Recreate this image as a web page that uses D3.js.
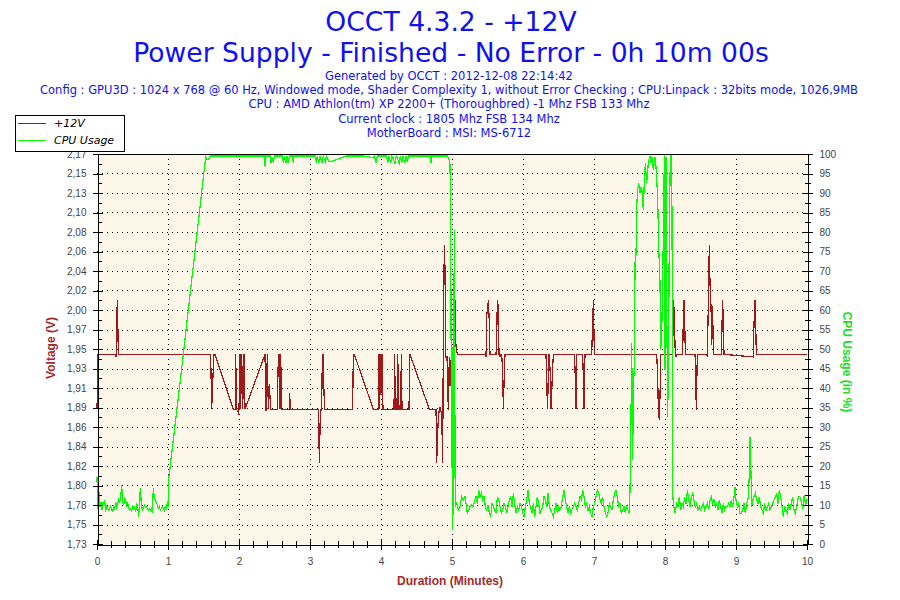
<!DOCTYPE html>
<html>
<head>
<meta charset="utf-8">
<script src="https://cdn.jsdelivr.net/npm/d3@7"></script>
<style>
  body { margin: 0; background: #fff; }
</style>
</head>
<body>
<div id="chart"></div>
<script>
// Chart texts
const titleLines = ["OCCT 4.3.2 - +12V", "Power Supply - Finished - No Error - 0h 10m 00s"];
const infoLines = [
  "Generated by OCCT : 2012-12-08 22:14:42",
  "Config : GPU3D : 1024 x 768 @ 60 Hz, Windowed mode, Shader Complexity 1, without Error Checking ; CPU:Linpack : 32bits mode, 1026,9MB",
  "CPU : AMD Athlon(tm) XP 2200+ (Thoroughbred) -1 Mhz FSB 133 Mhz",
  "Current clock : 1805 Mhz FSB 134 Mhz",
  "MotherBoard : MSI: MS-6712"
];
const legendNames = ["+12V", "CPU Usage"];

// Axis ticks
const minuteTicks = [0, 1, 2, 3, 4, 5, 6, 7, 8, 9, 10];
const voltTickLabels = ["1,73", "1,75", "1,78", "1,80", "1,82", "1,84", "1,86", "1,89", "1,91", "1,93", "1,95",
  "1,97", "2,00", "2,02", "2,04", "2,06", "2,08", "2,10", "2,13", "2,15", "2,17"];
const cpuTicks = [0, 5, 10, 15, 20, 25, 30, 35, 40, 45, 50, 55, 60, 65, 70, 75, 80, 85, 90, 95, 100];

// +12V reading: [minutes, volts]
const voltage = [
  [0.000, 1.882], [0.008, 1.915], [0.015, 1.944],
  [0.263, 1.944], [0.270, 1.941], [0.275, 1.979], [0.287, 2.005], [0.293, 1.980], [0.300, 1.944],
  [1.601, 1.944], [1.615, 1.882], [1.629, 1.911], [1.648, 1.944], [1.662, 1.944],
  [1.920, 1.882], [1.948, 1.882], [1.953, 1.944], [1.967, 1.882], [1.991, 1.878], [2.000, 1.882],
  [2.014, 1.944], [2.023, 1.882], [2.038, 1.944], [2.052, 1.882], [2.070, 1.944], [2.085, 1.882],
  [2.366, 1.944], [2.380, 1.880], [2.399, 1.944], [2.413, 1.882], [2.427, 1.911], [2.446, 1.882],
  [2.540, 1.882], [2.554, 1.944], [2.568, 1.944], [2.577, 1.882], [2.587, 1.944], [2.601, 1.882],
  [2.709, 1.882], [2.714, 1.900], [2.723, 1.882],
  [3.117, 1.882], [3.127, 1.840], [3.136, 1.821], [3.141, 1.865], [3.155, 1.882], [3.164, 1.882],
  [3.174, 1.944], [3.188, 1.944], [3.197, 1.900], [3.207, 1.882],
  [3.601, 1.882], [3.610, 1.944], [3.624, 1.944],
  [3.892, 1.882], [3.962, 1.882], [3.972, 1.944], [3.981, 1.882], [3.995, 1.944], [4.005, 1.900],
  [4.014, 1.944], [4.028, 1.882],
  [4.183, 1.882], [4.192, 1.944], [4.202, 1.882], [4.225, 1.882], [4.235, 1.944], [4.244, 1.911],
  [4.254, 1.882], [4.277, 1.882], [4.286, 1.944], [4.296, 1.882],
  [4.394, 1.882], [4.408, 1.944],
  [4.681, 1.882], [4.775, 1.882], [4.784, 1.821], [4.808, 1.875], [4.831, 1.885], [4.855, 1.875],
  [4.869, 1.821], [4.878, 1.968], [4.892, 2.067], [4.901, 2.043], [4.911, 1.941], [4.930, 1.941],
  [4.948, 1.881], [4.962, 1.941], [4.972, 1.908], [4.996, 1.953], [5.018, 1.900], [5.042, 2.005],
  [5.056, 1.953], [5.075, 1.944],
  [5.470, 1.944], [5.479, 1.941], [5.488, 1.986], [5.512, 2.005], [5.526, 1.979], [5.535, 1.944],
  [5.620, 1.944], [5.629, 1.958], [5.638, 2.005], [5.653, 1.997], [5.662, 1.944], [5.676, 1.941], [5.686, 1.944],
  [5.700, 1.944], [5.714, 1.923], [5.723, 1.882], [5.737, 1.923], [5.747, 1.944],
  [6.324, 1.944], [6.333, 1.912], [6.347, 1.882], [6.361, 1.944], [6.371, 1.944], [6.385, 1.919],
  [6.394, 1.882], [6.413, 1.919], [6.427, 1.944],
  [6.723, 1.944], [6.732, 1.930], [6.746, 1.882], [6.756, 1.944],
  [6.840, 1.944], [6.850, 1.919], [6.859, 1.882], [6.873, 1.944],
  [6.967, 1.944], [6.977, 1.968], [6.991, 2.005], [7.005, 1.944],
  [7.883, 1.944], [7.897, 1.919], [7.906, 1.881], [7.920, 1.870], [7.930, 1.898], [7.939, 1.944],
  [8.103, 1.944], [8.113, 1.968], [8.122, 2.005], [8.131, 1.986], [8.145, 1.944], [8.155, 1.941], [8.164, 1.944],
  [8.249, 1.944], [8.258, 1.986], [8.268, 2.005], [8.277, 1.986], [8.286, 1.944],
  [8.423, 1.944], [8.432, 1.919], [8.441, 1.881], [8.455, 1.944],
  [8.585, 1.944], [8.596, 1.941], [8.610, 1.999], [8.624, 2.067], [8.634, 2.024], [8.648, 1.999],
  [8.657, 1.955], [8.671, 1.999], [8.681, 1.944],
  [8.798, 1.944], [8.803, 1.979], [8.812, 2.005], [8.822, 1.979], [8.831, 1.944],
  [9.244, 1.941], [9.254, 1.980], [9.268, 2.005], [9.277, 1.980], [9.286, 1.944],
  [10.000, 1.944]
];

// CPU usage: [minutes, percent]
const cpuUsage = [
  [0.000, 17.3], [0.009, 9.1], [0.033, 13.4], [0.042, 9.6], [0.056, 10.8], [0.070, 8.7], [0.080, 10.8],
  [0.094, 10.0], [0.108, 11.3], [0.122, 8.3], [0.136, 10.0], [0.150, 9.1], [0.164, 8.7], [0.178, 9.1],
  [0.192, 9.6], [0.207, 8.7], [0.221, 8.3], [0.235, 9.6], [0.249, 9.1], [0.263, 10.8], [0.277, 9.6],
  [0.291, 10.4], [0.305, 11.3], [0.319, 10.8], [0.333, 11.7], [0.347, 15.1], [0.362, 10.8], [0.376, 10.0],
  [0.390, 11.7], [0.404, 11.3], [0.418, 9.6], [0.432, 10.8], [0.446, 9.1], [0.460, 8.7], [0.474, 9.1],
  [0.488, 8.3], [0.502, 10.0], [0.516, 8.7], [0.531, 9.6], [0.545, 8.3], [0.559, 10.4], [0.573, 9.6],
  [0.587, 7.0], [0.601, 10.8], [0.610, 14.3], [0.624, 10.4], [0.638, 8.7], [0.653, 9.1], [0.667, 10.0],
  [0.681, 9.6], [0.695, 9.6], [0.709, 9.1], [0.723, 8.7], [0.737, 9.1], [0.751, 8.7], [0.765, 9.1],
  [0.779, 7.9], [0.793, 14.3], [0.808, 11.7], [0.822, 11.3], [0.836, 10.8], [0.850, 10.0], [0.864, 9.1],
  [0.878, 9.6], [0.892, 8.7], [0.906, 9.1], [0.920, 9.6], [0.934, 9.1], [0.948, 8.7], [0.962, 9.6],
  [0.977, 9.1], [0.991, 10.8], [1.000, 9.6],
  [1.008, 16.4], [1.030, 19.8], [1.190, 44.6], [1.531, 99.3],
  [1.554, 98.5], [1.573, 98.5], [1.592, 99.5],
  [2.357, 99.5], [2.361, 98.0], [2.371, 96.6], [2.380, 99.5],
  [2.437, 99.5], [2.451, 97.6], [2.465, 99.0], [2.484, 97.6], [2.498, 99.5],
  [2.615, 99.5], [2.624, 97.6], [2.638, 99.5], [2.662, 97.6], [2.676, 99.5], [2.695, 97.6], [2.709, 99.5],
  [2.755, 99.5], [2.765, 97.6], [2.775, 99.5],
  [3.080, 99.5], [3.089, 97.6], [3.103, 99.5], [3.122, 97.6], [3.141, 99.5], [3.169, 97.6], [3.188, 99.5],
  [3.216, 98.0], [3.235, 99.5], [3.263, 98.0], [3.282, 98.0],
  [3.517, 99.5], [3.751, 99.5], [3.845, 99.2], [3.892, 99.2], [3.906, 99.5], [3.930, 97.6], [3.948, 99.5],
  [4.080, 99.5], [4.094, 97.6], [4.113, 99.5], [4.136, 97.6], [4.155, 99.5], [4.197, 97.6], [4.216, 99.5],
  [4.258, 97.6], [4.272, 99.5], [4.291, 97.6], [4.310, 99.5], [4.333, 97.6], [4.352, 99.5], [4.371, 98.0],
  [4.390, 99.5],
  [4.690, 99.5], [4.704, 97.6], [4.718, 99.5],
  [4.934, 99.5], [4.958, 98.5], [4.972, 97.2], [4.981, 81.8], [4.995, 19.4], [5.005, 50.6], [5.012, 3.6],
  [5.033, 80.5], [5.045, 9.6],
  [5.066, 10.4], [5.089, 8.7], [5.113, 9.6], [5.136, 12.1], [5.160, 11.3], [5.183, 12.1], [5.197, 10.4],
  [5.216, 7.9], [5.235, 8.7], [5.254, 9.6], [5.277, 10.0], [5.301, 9.6], [5.319, 11.3], [5.338, 12.1],
  [5.357, 10.4], [5.376, 13.8], [5.394, 12.1], [5.413, 13.0], [5.432, 11.3], [5.451, 12.1], [5.470, 9.6],
  [5.488, 8.7], [5.507, 10.0], [5.526, 7.9], [5.545, 7.0], [5.564, 10.4], [5.582, 9.6], [5.601, 8.7],
  [5.620, 7.9], [5.639, 12.1], [5.658, 11.3], [5.676, 9.6], [5.695, 7.9], [5.714, 8.7], [5.733, 10.4],
  [5.751, 9.6], [5.770, 7.9], [5.789, 9.6], [5.808, 11.3], [5.827, 12.1], [5.845, 9.6], [5.864, 13.0],
  [5.883, 10.4], [5.902, 7.9], [5.920, 9.6], [5.939, 8.7], [5.958, 10.4], [5.977, 9.6], [5.996, 7.9],
  [6.014, 7.0], [6.033, 9.6], [6.052, 11.3], [6.071, 13.8], [6.089, 10.4], [6.108, 9.6], [6.127, 7.9],
  [6.146, 10.4], [6.165, 7.0], [6.183, 9.6], [6.202, 12.1], [6.221, 10.4], [6.240, 7.9], [6.258, 8.7],
  [6.277, 9.6], [6.296, 12.1], [6.315, 11.3], [6.334, 9.6], [6.352, 13.0], [6.371, 9.6], [6.390, 8.7],
  [6.409, 7.9], [6.427, 7.0], [6.446, 8.7], [6.465, 10.4], [6.484, 7.9], [6.503, 9.6], [6.521, 8.7],
  [6.540, 9.6], [6.559, 12.1], [6.578, 13.8], [6.596, 11.3], [6.615, 9.6], [6.634, 7.9], [6.653, 9.6],
  [6.672, 7.9], [6.690, 8.7], [6.709, 9.6], [6.728, 10.4], [6.747, 9.6], [6.765, 8.7], [6.784, 10.4],
  [6.803, 12.1], [6.822, 11.3], [6.841, 13.8], [6.859, 12.1], [6.878, 9.6], [6.897, 10.4], [6.916, 8.7],
  [6.934, 9.6], [6.953, 7.9], [6.972, 7.0], [6.991, 9.6], [7.010, 10.4], [7.028, 12.1], [7.047, 13.8],
  [7.066, 13.0], [7.085, 11.3], [7.103, 10.4], [7.122, 12.1], [7.141, 9.6], [7.160, 7.9], [7.178, 7.0],
  [7.197, 7.9], [7.216, 10.4], [7.235, 9.6], [7.254, 8.7], [7.272, 11.3], [7.291, 13.0], [7.310, 13.8],
  [7.329, 12.1], [7.347, 9.6], [7.366, 10.4], [7.385, 7.9], [7.404, 8.7], [7.423, 9.6], [7.441, 7.9],
  [7.460, 9.6], [7.479, 8.7], [7.498, 7.9],
  [7.507, 13.8], [7.516, 22.8], [7.531, 51.5], [7.545, 21.5], [7.554, 39.5], [7.568, 45.5], [7.578, 72.0],
  [7.592, 74.5], [7.601, 86.5], [7.615, 90.8], [7.629, 92.5], [7.648, 89.9], [7.662, 91.6], [7.676, 90.8],
  [7.695, 85.6], [7.709, 93.3], [7.723, 97.6], [7.742, 92.5], [7.756, 95.9], [7.770, 98.5], [7.789, 99.3],
  [7.803, 97.6], [7.817, 99.3], [7.836, 95.9], [7.859, 99.3], [7.873, 96.7], [7.897, 89.0], [7.911, 76.2],
  [7.930, 66.8], [7.939, 49.7], [7.953, 53.2], [7.967, 66.8], [7.977, 79.5], [7.991, 99.7], [8.000, 44.6],
  [8.014, 99.3], [8.023, 64.3], [8.038, 32.6], [8.052, 53.2], [8.061, 81.4], [8.075, 99.3], [8.089, 99.7],
  [8.099, 83.9], [8.108, 13.0], [8.117, 10.4],
  [8.141, 7.9], [8.164, 10.4], [8.183, 9.6], [8.202, 12.1], [8.221, 8.7], [8.239, 10.4], [8.258, 9.6],
  [8.277, 12.1], [8.296, 10.4], [8.315, 13.8], [8.333, 11.3], [8.352, 9.6], [8.371, 12.1], [8.390, 13.0],
  [8.408, 11.3], [8.427, 9.6], [8.446, 10.4], [8.465, 8.7], [8.484, 9.6], [8.502, 8.7], [8.521, 9.6],
  [8.540, 10.4], [8.559, 8.7], [8.577, 9.6], [8.596, 10.4], [8.615, 8.7], [8.634, 11.3], [8.653, 12.1],
  [8.671, 10.4], [8.690, 11.3], [8.709, 9.6], [8.728, 10.4], [8.746, 8.7], [8.765, 11.3], [8.784, 9.6],
  [8.803, 7.9], [8.822, 10.4], [8.840, 8.7], [8.859, 9.6], [8.878, 9.6], [8.897, 10.4], [8.915, 9.6],
  [8.934, 11.3], [8.953, 9.6], [8.972, 12.1], [8.986, 14.7], [9.000, 11.3], [9.019, 9.6], [9.038, 10.4],
  [9.056, 7.9], [9.075, 7.9], [9.094, 8.7], [9.113, 10.4], [9.131, 7.9], [9.150, 10.4], [9.174, 12.1],
  [9.188, 18.1], [9.197, 27.5], [9.211, 18.1], [9.221, 9.6], [9.235, 11.3], [9.254, 12.1], [9.272, 13.0],
  [9.291, 11.3], [9.310, 10.4], [9.329, 12.1], [9.347, 9.6], [9.366, 8.7], [9.385, 7.9], [9.404, 10.4],
  [9.423, 8.7], [9.441, 9.6], [9.460, 10.4], [9.479, 8.7], [9.498, 9.6], [9.516, 10.4], [9.535, 11.3],
  [9.554, 12.1], [9.573, 13.0], [9.592, 10.4], [9.610, 13.8], [9.629, 12.1], [9.648, 9.6], [9.667, 7.0],
  [9.685, 9.6], [9.704, 8.7], [9.723, 7.9], [9.742, 10.4], [9.761, 8.7], [9.779, 10.4], [9.798, 12.1],
  [9.817, 8.7], [9.836, 7.9], [9.854, 9.6], [9.878, 12.1], [9.901, 12.1], [9.920, 11.0], [9.940, 9.0],
  [9.960, 12.5], [9.980, 10.0], [10.000, 11.5]
];

const W = 900, H = 600;
const plotLeft = 97, plotRight = 807, plotTop = 154, plotBottom = 544;
const voltColor = "#a01818";
const cpuColor = "#00ff00";

const svg = d3.select("#chart").append("svg")
  .attr("width", W)
  .attr("height", H)
  .style("font-family", "'DejaVu Sans', Verdana, sans-serif");

const x = d3.scaleLinear().domain([0, 10]).range([plotLeft, plotRight]);
const yV = d3.scaleLinear().domain([1.73, 2.17]).range([plotBottom, plotTop]);
const yC = d3.scaleLinear().domain([0, 100]).range([plotBottom, plotTop]);

// labels sit on evenly spaced voltage steps
const voltTicks = voltTickLabels.map((d, i) => 1.73 + i * 0.022);

// Titles
svg.selectAll("text.title")
  .data(titleLines)
  .join("text")
  .attr("class", "title")
  .attr("x", 451)
  .attr("y", (d, i) => 31 + i * 31)
  .attr("text-anchor", "middle")
  .attr("font-size", "26.6px")
  .attr("fill", "#1010f0")
  .text((d) => d);

svg.selectAll("text.info")
  .data(infoLines)
  .join("text")
  .attr("class", "info")
  .attr("x", 449)
  .attr("y", (d, i) => 80 + i * 14.2)
  .attr("text-anchor", "middle")
  .attr("font-size", "11.5px")
  .attr("fill", "#1010f0")
  .text((d) => d);

// Plot background
svg.append("rect")
  .attr("x", plotLeft)
  .attr("y", plotTop)
  .attr("width", plotRight - plotLeft)
  .attr("height", plotBottom - plotTop)
  .attr("fill", "#fdf7e9");

// Dotted grid
const grid = svg.append("g")
  .attr("stroke", "#000")
  .attr("stroke-width", 1)
  .attr("stroke-dasharray", "1,4")
  .attr("shape-rendering", "crispEdges");

grid.selectAll("line.h")
  .data(voltTicks.slice(1, -1))
  .join("line")
  .attr("class", "h")
  .attr("x1", plotLeft)
  .attr("x2", plotRight)
  .attr("y1", (d) => Math.round(yV(d)) + 0.5)
  .attr("y2", (d) => Math.round(yV(d)) + 0.5);

grid.selectAll("line.v")
  .data(minuteTicks.slice(1, -1))
  .join("line")
  .attr("class", "v")
  .attr("x1", (d) => Math.round(x(d)) + 0.5)
  .attr("x2", (d) => Math.round(x(d)) + 0.5)
  .attr("y1", plotTop)
  .attr("y2", plotBottom);

// Series
const voltLine = d3.line()
  .x((d) => x(d[0]))
  .y((d) => yV(d[1]));

const cpuLine = d3.line()
  .x((d) => x(d[0]))
  .y((d) => yC(d[1]));

svg.append("path")
  .datum(voltage)
  .attr("d", voltLine)
  .attr("fill", "none")
  .attr("stroke", voltColor)
  .attr("stroke-width", 1.2)
  .attr("shape-rendering", "crispEdges");

svg.append("path")
  .datum(cpuUsage)
  .attr("d", cpuLine)
  .attr("fill", "none")
  .attr("stroke", cpuColor)
  .attr("stroke-width", 1.2)
  .attr("shape-rendering", "crispEdges");

// Axes, ticks cross the axis line
function crossTicks(g, a, b) {
  g.selectAll(".tick line").attr(a + "1", -b).attr(a + "2", b);
}

const tickFont = "'Liberation Sans', Arial, sans-serif";

const xAxisG = svg.append("g")
  .attr("transform", `translate(0, ${plotBottom + 0.5})`)
  .call(d3.axisBottom(x).tickValues(minuteTicks).tickSize(5).tickPadding(8).tickFormat(d3.format("d")));
crossTicks(xAxisG, "y", 5);

svg.append("g")
  .attr("transform", `translate(0, ${plotBottom + 0.5})`)
  .call(d3.axisBottom(x).tickValues(d3.range(0, 10.01, 0.2)).tickSize(0).tickFormat(""))
  .call((g) => { g.select(".domain").remove(); crossTicks(g, "y", 3.5); });

const yAxisG = svg.append("g")
  .attr("transform", `translate(${plotLeft + 0.5}, 0)`)
  .call(d3.axisLeft(yV).tickValues(voltTicks).tickSize(5).tickPadding(6)
    .tickFormat((d, i) => voltTickLabels[i]));
crossTicks(yAxisG, "x", 5);

svg.append("g")
  .attr("transform", `translate(${plotLeft + 0.5}, 0)`)
  .call(d3.axisLeft(yV).tickValues(voltTicks.slice(1).map((d) => d - 0.011)).tickSize(0).tickFormat(""))
  .call((g) => { g.select(".domain").remove(); g.selectAll(".tick line").attr("x1", 0).attr("x2", 4); });

const cAxisG = svg.append("g")
  .attr("transform", `translate(${plotRight + 0.5}, 0)`)
  .call(d3.axisRight(yC).tickValues(cpuTicks).tickSize(5).tickPadding(7));
crossTicks(cAxisG, "x", 5);

svg.append("g")
  .attr("transform", `translate(${plotRight + 0.5}, 0)`)
  .call(d3.axisRight(yC).tickValues(cpuTicks.slice(1).map((d) => d - 2.5)).tickSize(0).tickFormat(""))
  .call((g) => { g.select(".domain").remove(); crossTicks(g, "x", 3); });

svg.selectAll(".domain, .tick line")
  .attr("stroke", "#000")
  .attr("shape-rendering", "crispEdges");
svg.selectAll(".tick text")
  .attr("fill", "#444")
  .attr("font-size", "10px")
  .attr("font-family", tickFont);

// Top border
svg.append("line")
  .attr("x1", plotLeft)
  .attr("x2", plotRight + 1)
  .attr("y1", plotTop + 0.5)
  .attr("y2", plotTop + 0.5)
  .attr("stroke", "#000")
  .attr("shape-rendering", "crispEdges");

// Axis titles
svg.append("text")
  .attr("x", 450)
  .attr("y", 585)
  .attr("text-anchor", "middle")
  .attr("font-family", tickFont)
  .attr("font-weight", "bold")
  .attr("font-size", "12px")
  .attr("fill", "#a52a2a")
  .text("Duration (Minutes)");

svg.append("text")
  .attr("transform", "translate(55, 348) rotate(-90)")
  .attr("text-anchor", "middle")
  .attr("font-family", tickFont)
  .attr("font-weight", "bold")
  .attr("font-size", "12px")
  .attr("fill", "#a52a2a")
  .text("Voltage (V)");

svg.append("text")
  .attr("transform", "translate(843, 362) rotate(90)")
  .attr("text-anchor", "middle")
  .attr("font-family", tickFont)
  .attr("font-weight", "bold")
  .attr("font-size", "12px")
  .attr("fill", "#22dd22")
  .text("CPU Usage (in %)");

// Legend
const legend = svg.append("g");
legend.append("rect")
  .attr("x", 15.5)
  .attr("y", 115.5)
  .attr("width", 109)
  .attr("height", 36)
  .attr("fill", "#fff")
  .attr("stroke", "#000");

const legendColors = [voltColor, cpuColor];
const item = legend.selectAll("g.item")
  .data(legendNames)
  .join("g")
  .attr("class", "item")
  .attr("transform", (d, i) => `translate(0, ${123 + i * 17})`);

item.append("line")
  .attr("x1", 18)
  .attr("x2", 46)
  .attr("y1", 0.5)
  .attr("y2", 0.5)
  .attr("stroke", (d, i) => legendColors[i])
  .attr("shape-rendering", "crispEdges");

item.append("text")
  .attr("x", 54)
  .attr("y", 4)
  .attr("font-size", "11px")
  .attr("font-style", "italic")
  .attr("fill", "#000")
  .text((d) => d);
</script>
</body>
</html>
